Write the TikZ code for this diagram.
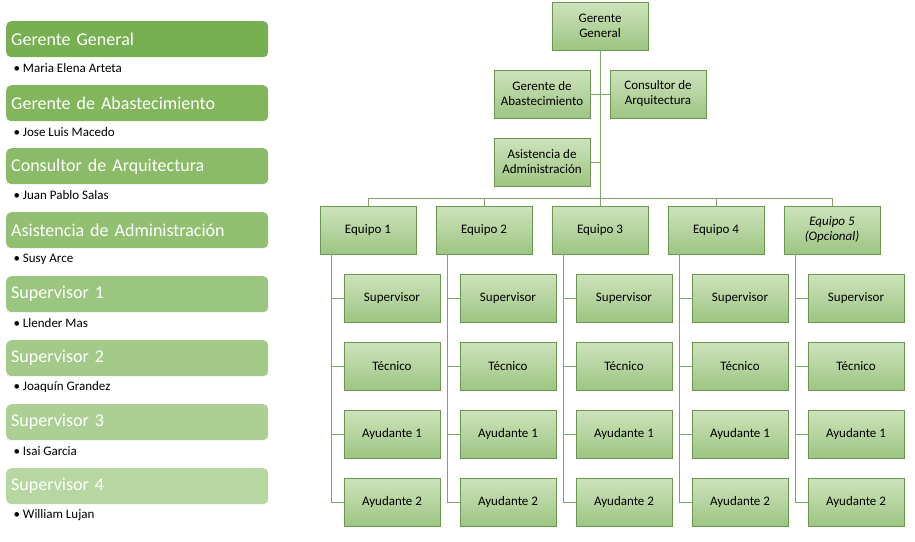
\documentclass[tikz,border=0pt]{standalone}
\usepackage{fontspec}
\setmainfont{Carlito}
\usetikzlibrary{positioning}
\definecolor{boxtop}{HTML}{CDE3BC}
\definecolor{boxbot}{HTML}{9DC582}
\definecolor{boxline}{HTML}{6A9650}
\definecolor{wire}{HTML}{7FA566}
\tikzset{
  cargo/.style={draw=boxline, top color=boxtop, bottom color=boxbot,
    minimum width=96pt, minimum height=48pt, inner sep=1pt, align=center,
    font=\fontsize{13}{15}\selectfont},
  barra/.style={rounded corners=5pt, minimum width=262pt, minimum height=36pt,
    text=white, anchor=north west, text width=252pt, align=left,
    font=\fontsize{18}{20}\selectfont},
  nombre/.style={anchor=west, font=\fontsize{13}{15}\selectfont},
  linea/.style={draw=wire, line width=1pt}
}
\begin{document}
\begin{tikzpicture}[x=1pt,y=-1pt]
  \useasboundingbox (0,0) rectangle (915,541);
  % lista de personas
  \foreach \t/\n/\y/\c in {Gerente General/Maria Elena Arteta/21/78AF50,
      Gerente de Abastecimiento/Jose Luis Macedo/85/82B55C,
      Consultor de Arquitectura/Juan Pablo Salas/148/8BBB68,
      Asistencia de Administraci\'on/Susy Arce/212/93BF72,
      Supervisor 1/Llender Mas/276/9BC67F,
      Supervisor 2/Joaqu\'in Grandez/340/A3CA89,
      Supervisor 3/Isai Garcia/404/ACD094,
      Supervisor 4/William Lujan/468/B7D7A2} {
    \definecolor{bar}{HTML}{\c}
    \node[barra, fill=bar] (b\y) at (6,\y) {\t};
    \node[nombre] (p\y) at (10,\y+47) {\textbullet\ \n};
  }
  % organigrama
  \node[cargo] (gg) at (600,26) {Gerente\\General};
  \node[cargo] (ga) at (542,94) {Gerente de\\Abastecimiento};
  \node[cargo] (ca) at (658,94) {Consultor de\\Arquitectura};
  \node[cargo] (aa) at (542,162) {Asistencia de\\Administraci\'on};
  \coordinate (bus) at (600,198);
  \draw[linea] (gg.south) -- (bus);
  \draw[linea] (ga.east) -- (ca.west);
  \draw[linea] (aa.east) -- (aa.east -| bus);
  \foreach \i/\e in {1/Equipo 1,2/Equipo 2,3/Equipo 3,4/Equipo 4,5/\textit{Equipo 5}\\\textit{(Opcional)}} {
    \pgfmathsetmacro{\cx}{368+116*(\i-1)}
    \node[cargo] (e\i) at (\cx,230) {\e};
    \draw[linea] (e\i.north) |- (bus);
    \coordinate (r\i) at (\cx-37,254);
    \foreach \j/\r/\cy in {1/Supervisor/298,2/T\'ecnico/366,3/Ayudante 1/434,4/Ayudante 2/502} {
      \node[cargo] (s\i\j) at (\cx+24,\cy) {\r};
      \draw[linea] (r\i) |- (s\i\j.west);
    }
  }
\end{tikzpicture}
\end{document}
